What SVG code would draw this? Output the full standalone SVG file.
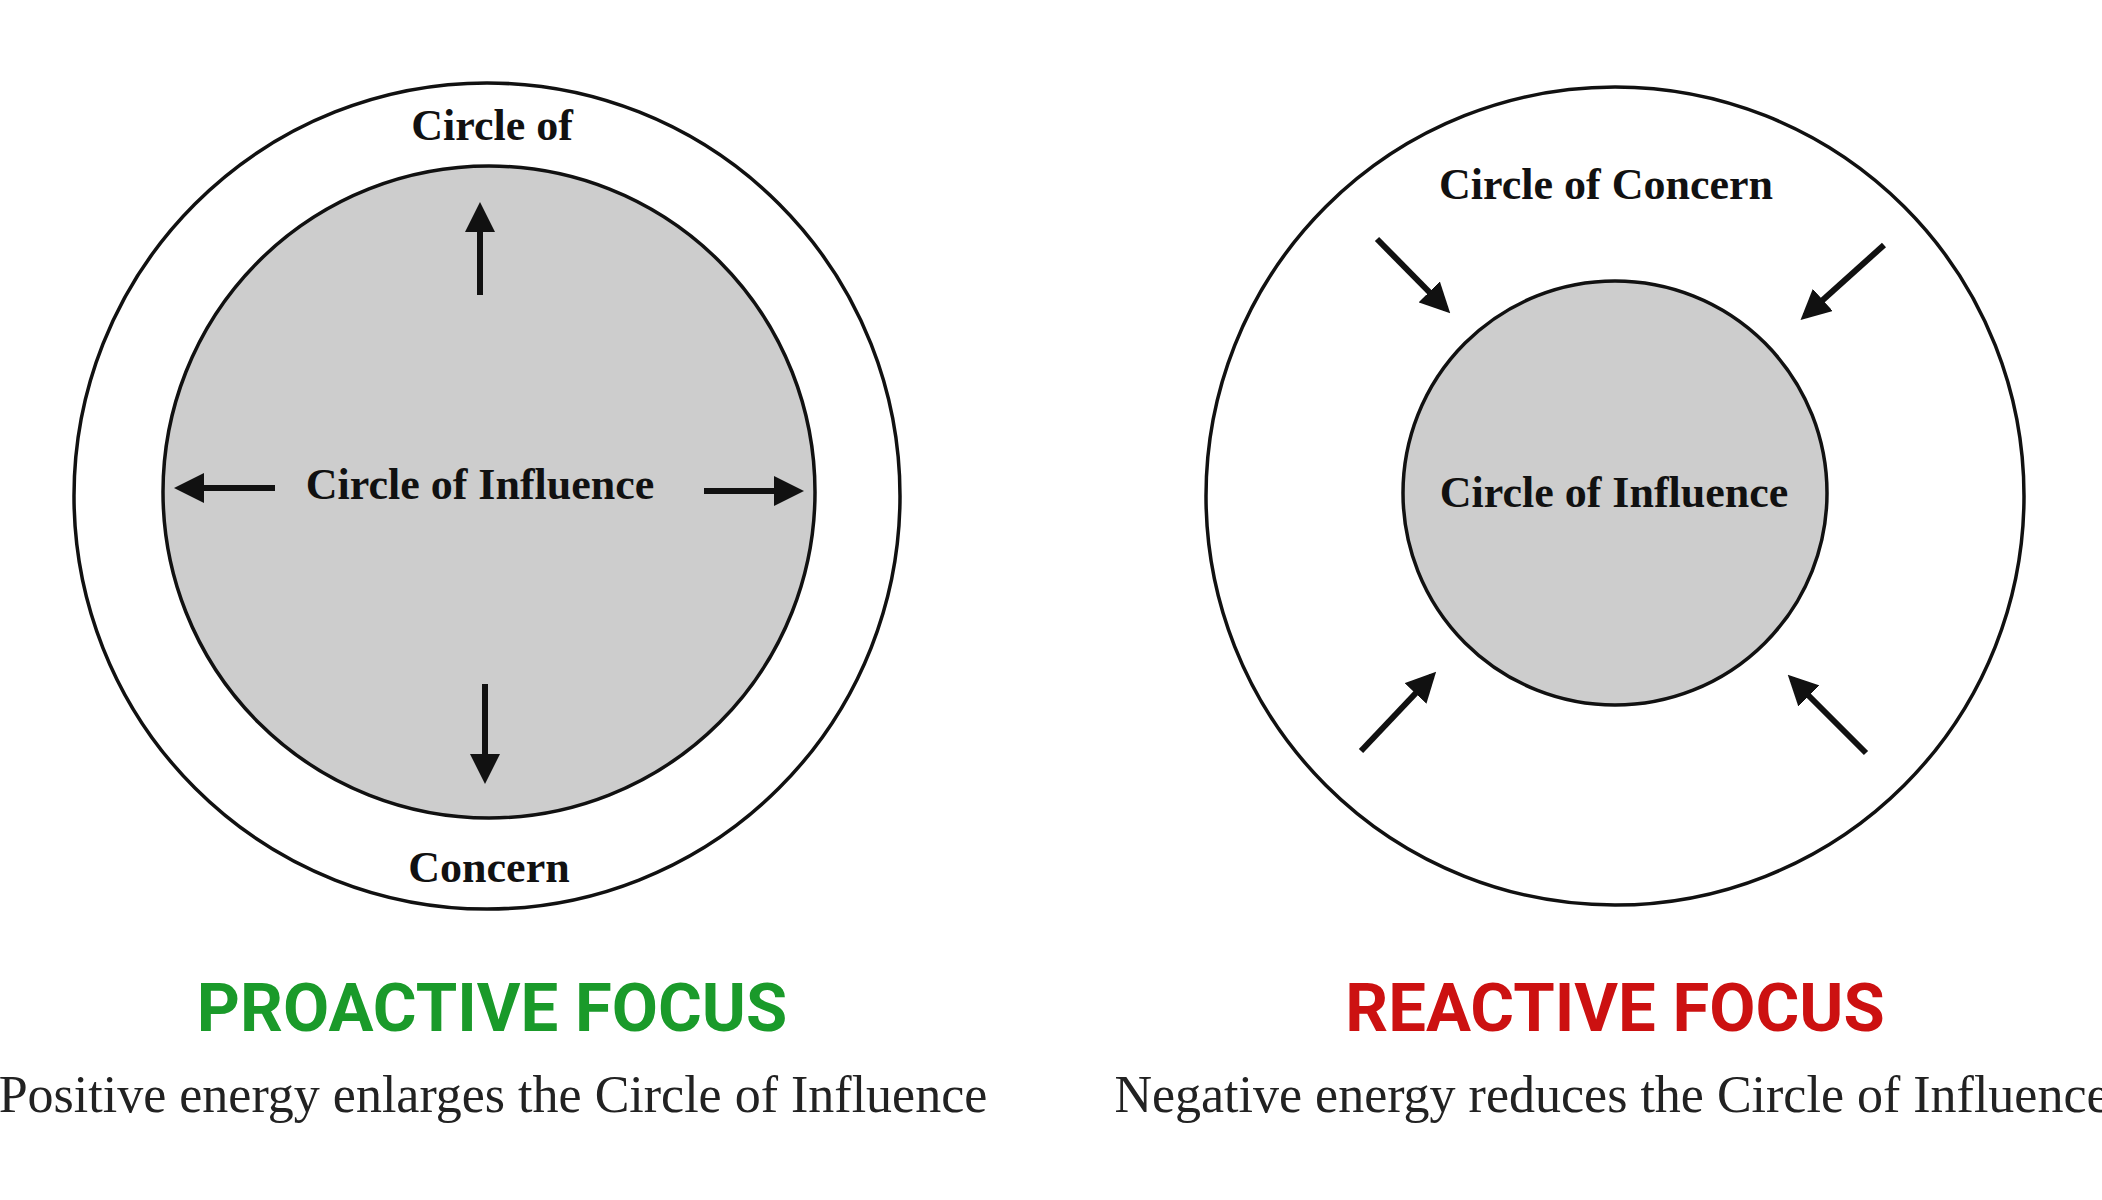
<svg xmlns="http://www.w3.org/2000/svg" width="2102" height="1200" viewBox="0 0 2102 1200">
<style>
.outer{fill:#fff;stroke:#111;stroke-width:3.5}
.inner{fill:#cdcdcd;stroke:#111;stroke-width:3.5}
.lbl{font-family:"Liberation Serif",serif;font-weight:bold;font-size:44px;fill:#111;text-anchor:middle}
.title{font-family:Roboto,"Liberation Sans",sans-serif;font-weight:bold;font-size:67px;text-anchor:middle}
.cap{font-family:"Liberation Serif",serif;font-size:52px;fill:#222;text-anchor:middle}
.arr{stroke:#111;stroke-width:6;fill:none;marker-end:url(#ah)}
</style>
<defs>
<marker id="ah" viewBox="0 0 10 10" refX="8" refY="5" markerWidth="5" markerHeight="5" orient="auto" markerUnits="strokeWidth"><path d="M0,0 L10,5 L0,10 z" fill="#111"/></marker>
</defs>
<rect width="2102" height="1200" fill="#fff"/>
<g id="proactive">
<circle class="outer" cx="487" cy="496" r="413"/>
<circle class="inner" cx="489" cy="492" r="326"/>
<text class="lbl" x="492" y="140">Circle of</text>
<text class="lbl" x="489" y="882">Concern</text>
<text class="lbl" x="480" y="499">Circle of Influence</text>
</g>
<g id="reactive">
<circle class="outer" cx="1615" cy="496" r="409"/>
<circle class="inner" cx="1615" cy="493" r="212"/>
<text class="lbl" x="1606" y="199">Circle of Concern</text>
<text class="lbl" x="1614" y="507">Circle of Influence</text>
</g>
<g id="connectors">
<line class="arr" x1="480" y1="295" x2="480" y2="208"/>
<line class="arr" x1="275" y1="488" x2="180" y2="488"/>
<line class="arr" x1="704" y1="491" x2="798" y2="491"/>
<line class="arr" x1="485" y1="684" x2="485" y2="778"/>
<line class="arr" x1="1377" y1="239" x2="1446" y2="309"/>
<line class="arr" x1="1884" y1="245" x2="1805" y2="316"/>
<line class="arr" x1="1361" y1="751" x2="1432" y2="676"/>
<line class="arr" x1="1866" y1="753" x2="1792" y2="679"/>
</g>
<g id="captions">
<text class="title" x="492" y="1031" fill="#1a9a2a">PROACTIVE FOCUS</text>
<text class="title" x="1615" y="1031" fill="#cc1111">REACTIVE FOCUS</text>
<text class="cap" x="493" y="1112">Positive energy enlarges the Circle of Influence</text>
<text class="cap" x="1612" y="1112">Negative energy reduces the Circle of Influence</text>
</g>
</svg>
